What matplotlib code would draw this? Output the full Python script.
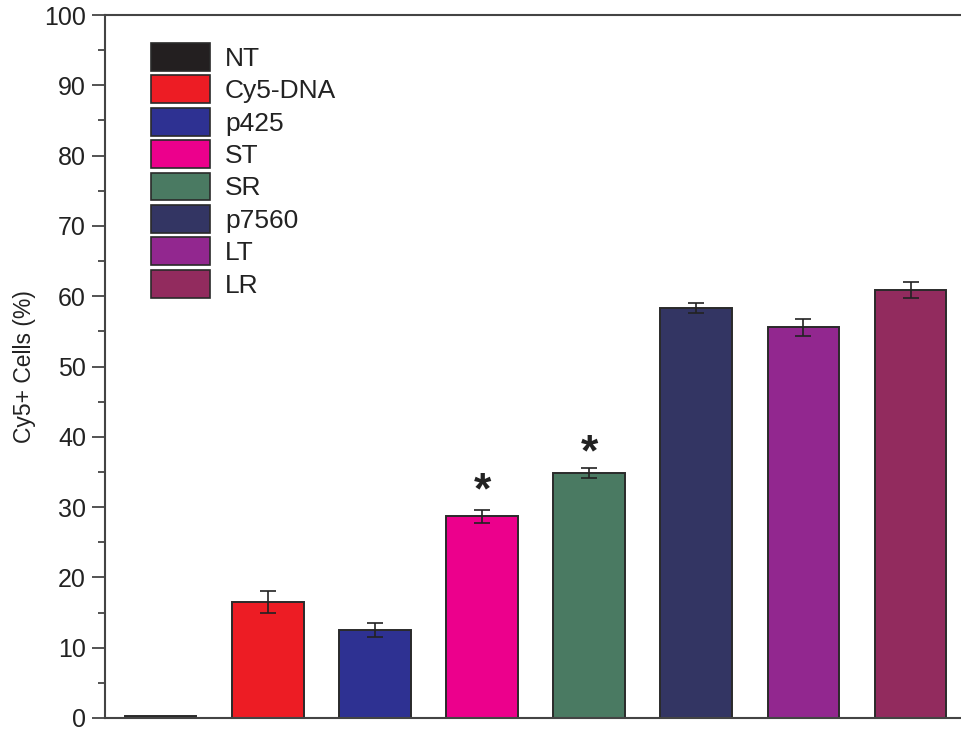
import numpy as np
import matplotlib.pyplot as plt
from matplotlib.patches import Patch

groups = ['NT', 'Cy5-DNA', 'p425', 'ST', 'SR', 'p7560', 'LT', 'LR']
values = [0.3, 16.5, 12.5, 28.7, 34.8, 58.3, 55.6, 60.9]
errors = [0.0, 1.5, 1.0, 0.9, 0.7, 0.7, 1.2, 1.1]
colors = ['#231f20', '#ed1c24', '#2e3192', '#ec008c', '#4a7a62', '#333563', '#92278f', '#922b5e']
star_groups = ['ST', 'SR']
star_y = [33.6, 39.0]

plt.rcParams['font.family'] = ['Liberation Sans', 'DejaVu Sans']

fig = plt.figure(figsize=(9.62, 7.29), dpi=100)
ax = fig.add_axes([0.109, 0.0151, 0.891, 0.9643])

x = np.arange(len(groups))
ax.bar(x, values, width=0.67, color=colors, edgecolor='#2a2a2a', linewidth=1.4, zorder=2)
ax.errorbar(x[1:], values[1:], yerr=errors[1:], fmt='none', ecolor='#222222',
            elinewidth=1.2, capsize=6, capthick=1.2, zorder=3)

# asterisks for significance (glyph sits high in its box, so nudge down)
for g, sy in zip(star_groups, star_y):
    ax.text(groups.index(g), sy - 1.5, '*', ha='center', va='center',
            fontsize=32, fontweight='bold', color='#222222')

ax.set_xlim(-0.52, 7.48)
ax.set_ylim(0, 100)
ax.set_yticks(np.arange(0, 101, 10))
ax.set_yticks(np.arange(5, 100, 10), minor=True)
ax.set_xticks([])
ax.tick_params(axis='y', which='major', direction='out', length=9.5, width=1.3,
               labelsize=18, color='#444444', labelcolor='#222222', pad=4)
ax.tick_params(axis='y', which='minor', direction='out', length=5, width=1.3, color='#444444')
ax.set_ylabel('Cy5+ Cells (%)', fontsize=16.5, labelpad=6, color='#222222')

for s in ['left', 'top', 'bottom']:
    ax.spines[s].set_color('#444444')
    ax.spines[s].set_linewidth(1.5)
ax.spines['right'].set_visible(False)

handles = [Patch(facecolor=c, edgecolor='#2a2a2a', linewidth=1.2) for c in colors]
leg = ax.legend(handles, groups, loc='upper left', bbox_to_anchor=(151 / 962, 1 - 43 / 729),
                bbox_transform=fig.transFigure, frameon=False, fontsize=19,
                handlelength=2.25, handleheight=1.25, labelspacing=0.17, handletextpad=0.55,
                borderpad=0, borderaxespad=0)
for t in leg.get_texts():
    t.set_color('#222222')

plt.savefig('out.png', dpi=100)
